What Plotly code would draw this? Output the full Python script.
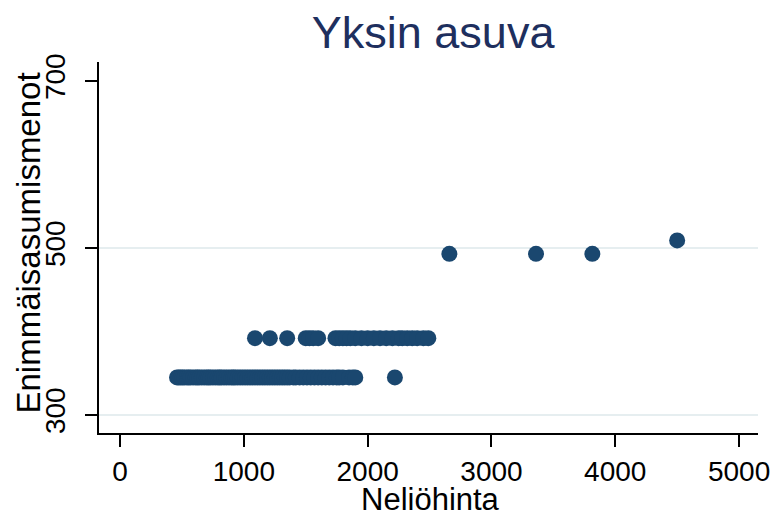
import plotly.graph_objects as go

# Neliöhinta (x) and Enimmäisasumismenot (y)
price_low = [460, 475, 490, 505, 520, 540, 555, 570, 590, 610, 625, 640, 660, 680, 700,
             715, 730, 750, 770, 790, 805, 820, 840, 860, 880, 900, 915, 930, 950, 970,
             990, 1010, 1030, 1050, 1070, 1090, 1110, 1130, 1150, 1170, 1190, 1210, 1230,
             1250, 1270, 1290, 1310, 1330, 1350, 1370, 1400, 1420, 1450, 1480, 1510, 1540,
             1570, 1600, 1630, 1660, 1690, 1720, 1750, 1770, 1800, 1850, 1880, 1900, 2220]
cost_low = [345] * len(price_low)

price_mid = [1090, 1210, 1350, 1500, 1530, 1560, 1600, 1740, 1770, 1800, 1830, 1860,
             1900, 1950, 2000, 2050, 2100, 2150, 2200, 2250, 2280, 2320, 2360, 2400,
             2450, 2490]
cost_mid = [392] * len(price_mid)

price_high = [2660, 3360, 3815, 4500]
cost_high = [493, 493, 493, 509]

x_ticks = [0, 1000, 2000, 3000, 4000, 5000]
y_ticks = [300, 500, 700]
y_grid = [300, 500]

prices = price_low + price_mid + price_high
costs = cost_low + cost_mid + cost_high

NAVY = "#1a476f"
FONT = "Liberation Sans, Arial, sans-serif"

# the page body adds an 8px margin, so the figure is 8px smaller than the window
fig = go.Figure()
for g in y_grid:
    fig.add_hline(y=g, line=dict(color="#e6eef0", width=2), layer="below")

fig.add_trace(go.Scatter(
    x=prices, y=costs, mode="markers",
    marker=dict(size=16, color=NAVY, line=dict(width=0)),
    showlegend=False,
))

fig.update_layout(
    width=770, height=511,
    margin=dict(l=91, r=20, t=54, b=86),
    paper_bgcolor="white", plot_bgcolor="white",
    font=dict(family=FONT, color="black"),
    title=dict(text="Yksin asuva", x=0.507, xref="paper", xanchor="center",
               y=0.953, yanchor="middle", automargin=False,
               font=dict(size=45, color="#1e2f5e")),
    annotations=[
        dict(text="Neliöhinta", x=0.5, y=0, xref="paper", yref="paper",
             xanchor="center", yanchor="top", xshift=2, yshift=-47,
             showarrow=False, font=dict(size=31)),
        dict(text="Enimmäisasumismenot", x=0, y=0.5, xref="paper", yref="paper",
             xanchor="center", yanchor="middle", xshift=-71, yshift=4, textangle=-90,
             showarrow=False, font=dict(size=33)),
    ],
)
fig.update_xaxes(
    range=[-170, 5153], tickvals=x_ticks, showgrid=False, zeroline=False,
    showline=True, linecolor="black", linewidth=2, automargin=False,
    ticks="outside", ticklen=12, tickwidth=2, tickcolor="black",
    tickfont=dict(size=28),
)
fig.update_yaxes(
    range=[278.4, 722.7], tickvals=y_ticks, showgrid=False, zeroline=False,
    showline=True, linecolor="black", linewidth=2, automargin=False,
    ticks="outside", ticklen=12, tickwidth=2, tickcolor="black",
    tickangle=-90, tickfont=dict(size=28), ticklabelstandoff=9,
)

fig.write_html("out.html")
